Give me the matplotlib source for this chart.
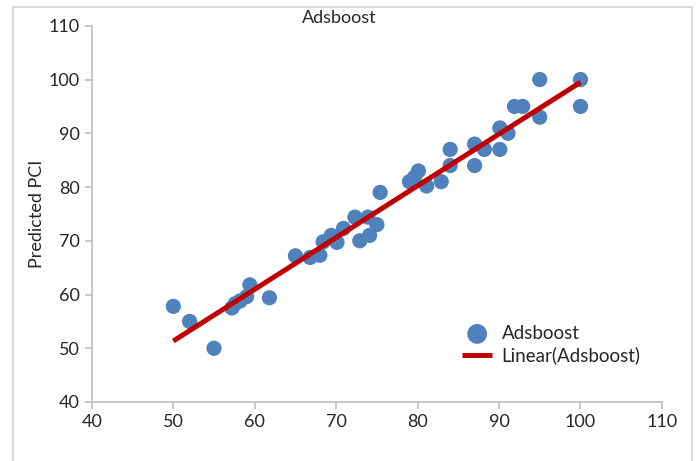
import numpy as np
import matplotlib.pyplot as plt
from matplotlib.patches import Rectangle

plt.rcParams['font.family'] = ['Lato', 'DejaVu Sans']

actual = [50, 52, 55, 57.2, 57.6, 58.2, 59, 59.4, 61.8,
          65, 66.8, 68, 68.4, 69.4, 70.1, 70.9, 72.3, 73.9, 72.9, 74.1, 75, 75.4,
          79, 80.1, 79.6, 81.1, 82.9, 84, 84, 87, 87, 88.2, 90.1, 90.1, 91.1,
          91.9, 92.9, 95, 95, 100, 100]
predicted = [57.8, 55, 50, 57.5, 58.3, 58.8, 59.6, 61.8, 59.4,
             67.2, 66.9, 67.3, 69.8, 71, 69.7, 72.3, 74.4, 74.4, 70, 71, 73, 79,
             81, 83, 81.8, 80.2, 81, 87, 84, 84, 88, 87, 87, 91, 90,
             95, 95, 93, 100, 100, 95]

slope, intercept = np.polyfit(actual, predicted, 1)
x_fit = np.array([min(actual), max(actual)])
y_fit = slope * x_fit + intercept

fig = plt.figure(figsize=(6.96, 4.61), dpi=100)
ax = fig.add_axes([0.132, 0.128, 0.819, 0.816])

ax.scatter(actual, predicted, s=120, color='#4f81bd', edgecolors='none',
           label='Adsboost', zorder=2)
ax.plot(x_fit, y_fit, color='#c00000', lw=3.6, label='Linear(Adsboost)',
        solid_capstyle='butt', zorder=3)

ax.set_xlim(40, 110)
ax.set_ylim(40, 110)
ax.set_xticks(range(40, 111, 10))
ax.set_yticks(range(40, 111, 10))
for s in ['top', 'right']:
    ax.spines[s].set_visible(False)
for s in ['left', 'bottom']:
    ax.spines[s].set_color('#bfbfbf')
    ax.spines[s].set_linewidth(1.2)
ax.tick_params(colors='#bfbfbf', labelcolor='#262626', labelsize=13,
               length=5, width=1.2)
ax.set_ylabel('Predicted PCI', fontsize=13, color='#262626', labelpad=3)

fig.text(0.487, 0.962, 'Adsboost', ha='center', va='center',
         fontsize=13, color='#262626')

ax.legend(loc='upper left', bbox_to_anchor=(0.62, 0.25), frameon=False,
          fontsize=13.5, handlelength=1.6, handletextpad=0.5,
          labelspacing=0.25, labelcolor='#262626', markerscale=1.3)

fig.add_artist(Rectangle((0.0187, -0.05), 0.975, 1.035, transform=fig.transFigure,
                         fill=False, edgecolor='#d9d9d9', lw=1.5))

fig.savefig('out.png', dpi=100)
